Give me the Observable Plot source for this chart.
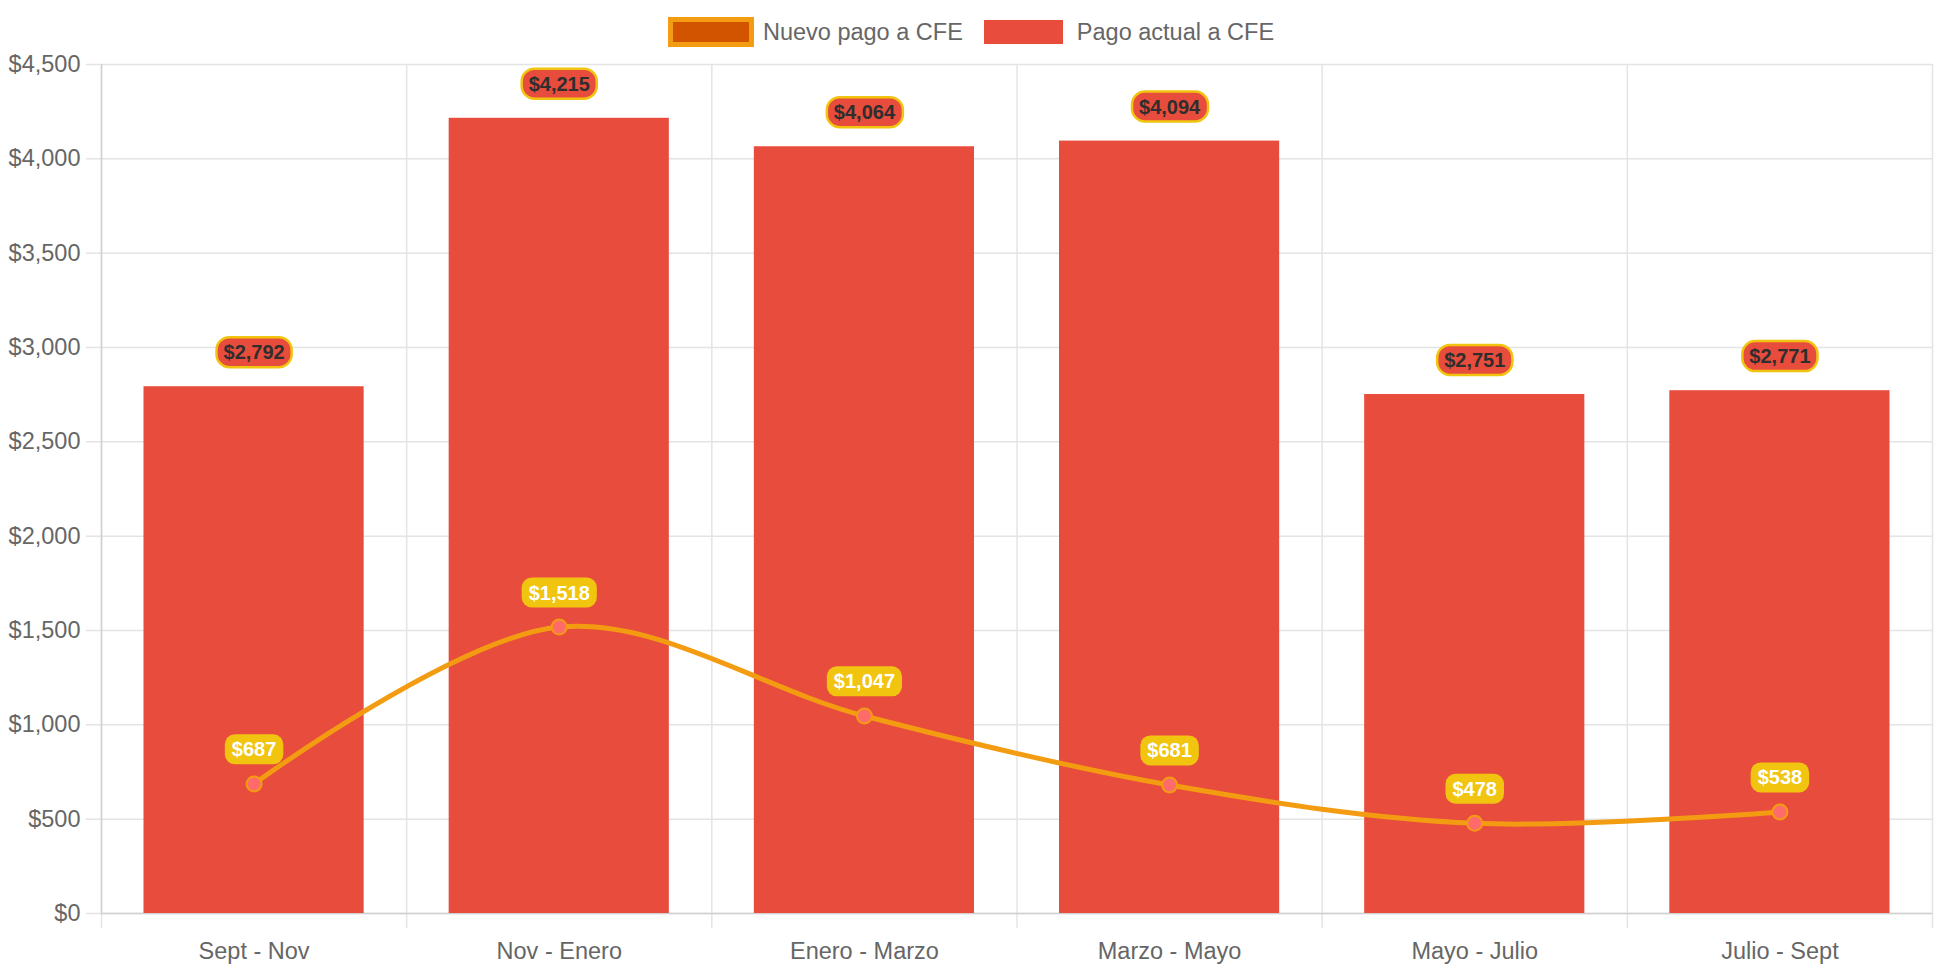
<!DOCTYPE html>
<html>
<head>
<meta charset="utf-8">
<script src="https://cdn.jsdelivr.net/npm/d3@7"></script>
<script src="https://cdn.jsdelivr.net/npm/@observablehq/plot@0.6"></script>
<style>
  html, body { margin: 0; padding: 0; background: #fff; overflow: hidden; }
  body { width: 1942px; height: 970px; font-family: "Liberation Sans", Arial, Helvetica, sans-serif; }
  #legend { height: 50px; padding-top: 17px; padding-left: 0px; display: flex; justify-content: center; align-items: flex-start; color: #666; font-size: 23.5px; box-sizing: border-box; }
  #legend span { line-height: 30px; }
  .box1 { width: 86px; height: 30px; box-sizing: border-box; border: 5px solid #F39C12; background: #D35400; margin-right: 9px; }
  .box2 { width: 79px; height: 24px; margin-top: 3px; background: #E74C3C; margin-left: 21px; margin-right: 14px; }
  #chart svg { display: block; }
</style>
</head>
<body>
<div id="legend">
  <div class="box1"></div><span>Nuevo pago a CFE</span>
  <div class="box2"></div><span>Pago actual a CFE</span>
</div>
<div id="chart"></div>
<script>
const categories = ["Sept - Nov", "Nov - Enero", "Enero - Marzo", "Marzo - Mayo", "Mayo - Julio", "Julio - Sept"];
const pagoActual = [2792, 4215, 4064, 4094, 2751, 2771];
const nuevoPago = [687, 1518, 1047, 681, 478, 538];
const yTicks = [0, 500, 1000, 1500, 2000, 2500, 3000, 3500, 4000, 4500];

const data = categories.map((c, i) => ({i, c, actual: pagoActual[i], nuevo: nuevoPago[i]}));
const money = d3.format("$,");
const mid = d => d.i + 0.5;
const font = '"Liberation Sans", Arial, Helvetica, sans-serif';

const plot = Plot.plot({
  width: 1942,
  height: 920,
  marginTop: 14,
  marginBottom: 57,
  marginLeft: 101,
  marginRight: 10,
  style: {fontFamily: font, color: "#666", background: "transparent"},
  x: {type: "linear", domain: [0, categories.length]},
  y: {domain: [0, 4500]},
  marks: [
    Plot.ruleY(yTicks, {stroke: "#e4e4e4", strokeWidth: 1.5, insetLeft: -15}),
    Plot.ruleX(d3.range(categories.length + 1), {stroke: "#e4e4e4", strokeWidth: 1.5, insetBottom: -15}),
    Plot.ruleX([0], {stroke: "#d0d0d0", strokeWidth: 1.5}),
    Plot.ruleY([0], {stroke: "#d0d0d0", strokeWidth: 1.5}),
    Plot.rectY(data, {x1: "i", x2: d => d.i + 1, y: "actual", fill: "#E74C3C", insetLeft: 42.5, insetRight: 42.5}),
    Plot.line(data, {x: mid, y: "nuevo", stroke: "#F39C12", strokeWidth: 5, curve: "catmull-rom"}),
    Plot.dot(data, {x: mid, y: "nuevo", r: 7.5, fill: "#FF6B6B", stroke: "#F39C12", strokeWidth: 2}),
    Plot.text(data, {x: mid, y: "actual", text: d => money(d.actual), dy: -34, fontSize: 20, fontWeight: "bold", fill: "#2e2e2e"}),
    Plot.text(data, {x: mid, y: "nuevo", text: d => money(d.nuevo), dy: -34, fontSize: 20, fontWeight: "bold", fill: "#fff"}),
    Plot.axisX({ticks: data.map(mid), tickFormat: t => categories[Math.floor(t)], tickSize: 0, tickPadding: 29, fontSize: 23.5, label: null}),
    Plot.axisY({ticks: yTicks, tickFormat: money, tickSize: 0, tickPadding: 21, fontSize: 23.5, label: null})
  ]
});
document.getElementById("chart").appendChild(plot);

function addBackgrounds(g, fill, stroke, strokeWidth, rx) {
  if (!g) return;
  g.querySelectorAll("text").forEach(t => {
    const b = t.getBBox();
    const cy = b.y + b.height / 2;
    const r = document.createElementNS("http://www.w3.org/2000/svg", "rect");
    r.setAttribute("x", b.x - 7);
    r.setAttribute("y", cy - 15);
    r.setAttribute("width", b.width + 14);
    r.setAttribute("height", 30);
    r.setAttribute("rx", rx);
    r.setAttribute("fill", fill);
    if (stroke) { r.setAttribute("stroke", stroke); r.setAttribute("stroke-width", strokeWidth); }
    if (t.getAttribute("transform")) r.setAttribute("transform", t.getAttribute("transform"));
    t.parentNode.insertBefore(r, t);
  });
}
const textGroups = plot.querySelectorAll('g[aria-label="text"]');
addBackgrounds(textGroups[0], "#E74C3C", "#F1C40F", 2.5, 13);
addBackgrounds(textGroups[1], "#F1C40F", null, 0, 10);
</script>
</body>
</html>
